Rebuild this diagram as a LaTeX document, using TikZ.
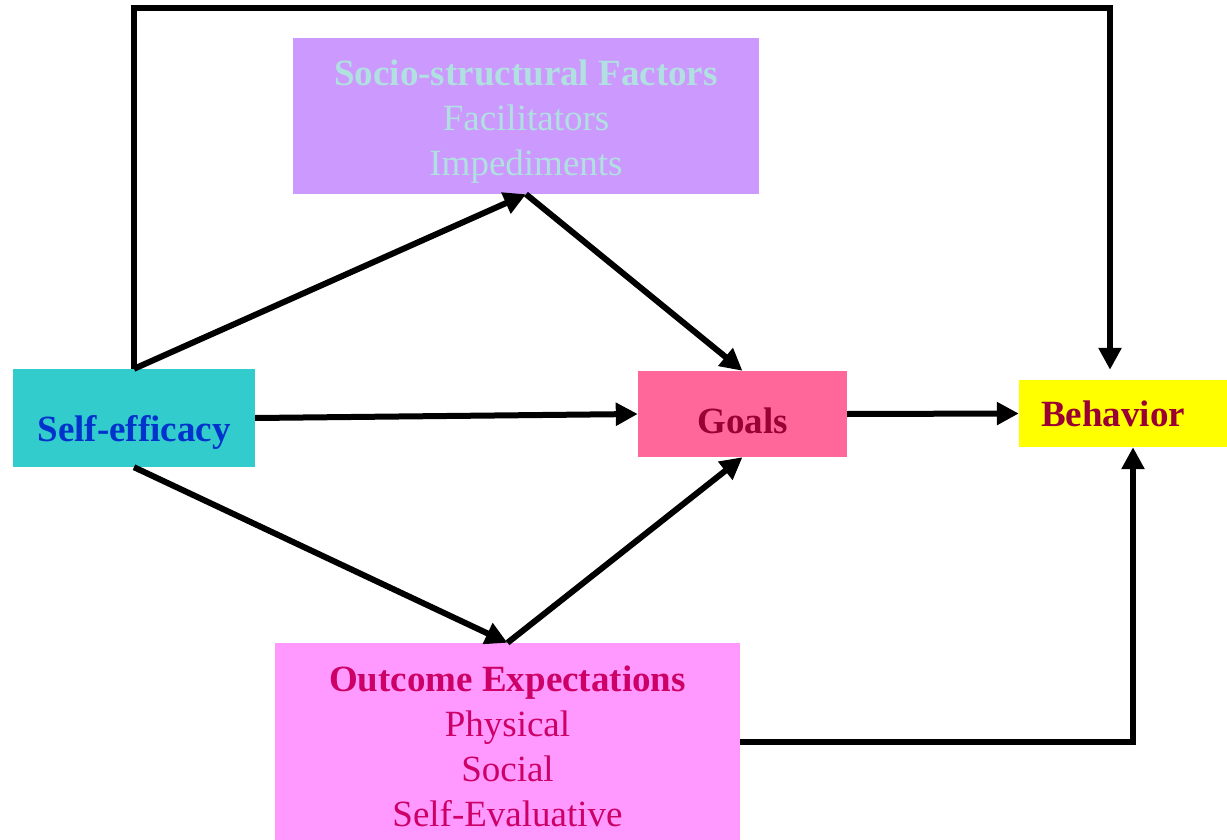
\documentclass[tikz,border=0pt]{standalone}
\usepackage{fontspec}
\setmainfont{Liberation Serif}
\usetikzlibrary{arrows.meta,calc}
\definecolor{socioFill}{HTML}{CC99FF}
\definecolor{socioText}{HTML}{B0E0E0}
\definecolor{selfFill}{HTML}{33CCCC}
\definecolor{selfText}{HTML}{0033CC}
\definecolor{goalFill}{HTML}{FF6699}
\definecolor{goalText}{HTML}{990033}
\definecolor{behFill}{HTML}{FFFF00}
\definecolor{outFill}{HTML}{FF99FF}
\definecolor{outText}{HTML}{CC0066}
\tikzset{
  box/.style={draw=none, inner sep=0pt},
  txt/.style={inner sep=0pt, align=center,
    font=\fontsize{37}{45}\selectfont},
  link/.style={line width=6pt, -{Triangle[length=22pt,width=22pt]}}
}
\begin{document}
\begin{tikzpicture}[x=1pt,y=-1pt]
\useasboundingbox (0,0) rectangle (1227,840);

% coloured boxes
\node[box, fill=socioFill, minimum width=466pt, minimum height=156pt] (socio) at (526,116) {};
\node[box, fill=selfFill, minimum width=242pt, minimum height=98pt] (self) at (134,418) {};
\node[box, fill=goalFill, minimum width=209pt, minimum height=86pt] (goals) at (742.5,414) {};
\node[box, fill=behFill, minimum width=208pt, minimum height=67pt] (beh) at (1123,413.5) {};
\node[box, fill=outFill, minimum width=465pt, minimum height=197pt] (out) at (507.5,741.5) {};

% box texts
\node[txt, text=socioText] (socioT) at ($(socio)+(0,6)$)
  {\textbf{Socio-structural Factors}\\Facilitators\\Impediments};
\node[txt, text=selfText] (selfT) at ($(self)+(0,14)$) {\textbf{Self-efficacy}};
\node[txt, text=goalText] (goalsT) at ($(goals)+(0,7)$) {\textbf{Goals}};
\node[txt, text=goalText] (behT) at ($(beh)+(-10,0)$) {\textbf{Behavior}};
\node[txt, text=outText] (outT) at ($(out)+(0,5)$)
  {\textbf{Outcome Expectations}\\Physical\\Social\\Self-Evaluative};

\coordinate (topR) at (1110,8);

% connectors
\draw[link, shorten >=10pt] (self.north) |- (topR) -- (topR |- beh.north);
\draw[link] (self.north) -- (socio.south);
\draw[link] (socio.south) -- (goals.north);
\draw[link] (self.east) -- (goals.west);
\draw[link] (goals.east) -- (beh.west);
\draw[link] (self.south) -- (out.north);
\draw[link] (out.north) -- (goals.south);
\draw[link] (out.east) -| ([xshift=10pt]beh.south);
\end{tikzpicture}
\end{document}
